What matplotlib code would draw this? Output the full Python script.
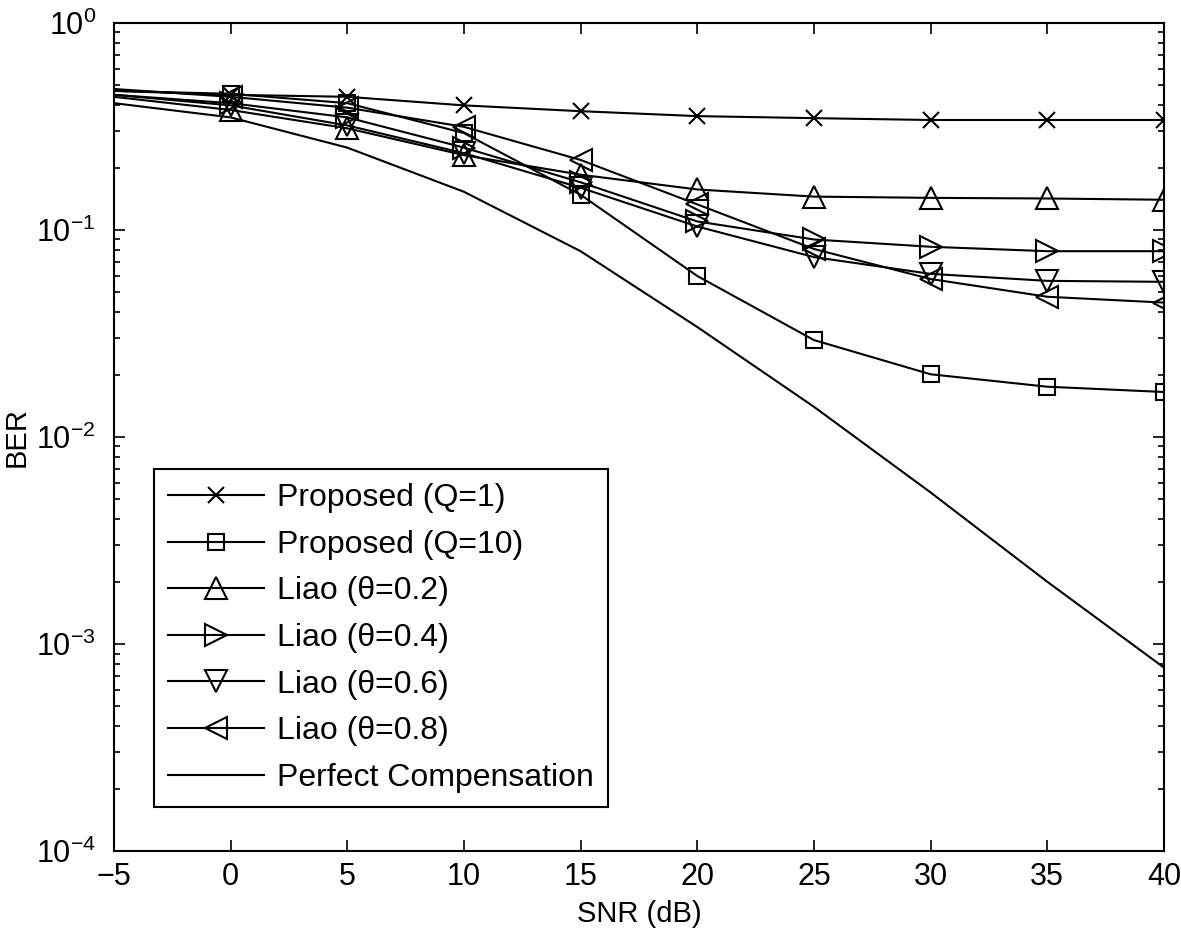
"""BER vs SNR comparison: proposed scheme vs Liao's method"""

import matplotlib
matplotlib.use('Agg')
import matplotlib.pyplot as plt

plt.rcParams['font.family'] = ['Liberation Sans', 'DejaVu Sans']
plt.rcParams['mathtext.default'] = 'regular'

snr_db = [-5, 0, 5, 10, 15, 20, 25, 30, 35, 40]

proposed_q1 = [0.47, 0.45, 0.44, 0.40, 0.375, 0.355, 0.347, 0.34, 0.34, 0.34]
proposed_q10 = [0.47, 0.455, 0.41, 0.294, 0.148, 0.060, 0.0294, 0.0201, 0.0175, 0.0165]
liao_02 = [0.44, 0.38, 0.31, 0.23, 0.185, 0.157, 0.145, 0.143, 0.142, 0.140]
liao_04 = [0.45, 0.41, 0.35, 0.25, 0.17, 0.110, 0.090, 0.083, 0.079, 0.079]
liao_06 = [0.45, 0.40, 0.32, 0.235, 0.16, 0.104, 0.074, 0.0614, 0.0568, 0.0562]
liao_08 = [0.48, 0.44, 0.39, 0.315, 0.218, 0.133, 0.081, 0.058, 0.0476, 0.0446]
perfect = [0.41, 0.35, 0.25, 0.153, 0.079, 0.034, 0.014, 0.0054, 0.002, 0.00077]

series = [
    (proposed_q1, 'x', 11, 'Proposed (Q=1)'),
    (proposed_q10, 's', 12, 'Proposed (Q=10)'),
    (liao_02, '^', 16, 'Liao (θ=0.2)'),
    (liao_04, '>', 16, 'Liao (θ=0.4)'),
    (liao_06, 'v', 16, 'Liao (θ=0.6)'),
    (liao_08, '<', 16, 'Liao (θ=0.8)'),
]

fig = plt.figure(figsize=(11.81, 9.35), dpi=100)
ax = fig.add_axes([0.0965, 0.0898, 0.889, 0.8856])

for values, marker, size, label in series:
    # no marker at the first point (-5 dB), as in the original
    ax.semilogy(snr_db, values, color='black', linewidth=1.5, marker=marker,
                markersize=size, markerfacecolor='none', markeredgewidth=1.5,
                markevery=slice(1, None), label=label)
ax.semilogy(snr_db, perfect, color='black', linewidth=1.5, label='Perfect Compensation')

ax.set_xlim(-5, 40)
ax.set_ylim(1e-4, 1)
ax.set_xticks(range(-5, 41, 5))
ax.set_xlabel('SNR (dB)', fontsize=21, labelpad=6)
ax.set_ylabel('BER', fontsize=21, labelpad=4)
ax.tick_params(which='both', direction='in', top=True, right=True, labelsize=22, width=1.2)
ax.tick_params(which='major', length=8)
ax.tick_params(which='minor', length=4)
ax.tick_params(axis='x', which='major', pad=8)
ax.tick_params(axis='y', which='major', pad=13)
for spine in ax.spines.values():
    spine.set_linewidth(1.5)

leg = ax.legend(loc='lower left', bbox_to_anchor=(0.038, 0.053), fontsize=23,
                frameon=True, fancybox=False, edgecolor='black', framealpha=1,
                handlelength=3.0, handletextpad=0.4, labelspacing=0.52,
                borderpad=0.45, borderaxespad=0, markerscale=1.0)
leg.get_frame().set_linewidth(1.5)

fig.savefig('out.png', dpi=100)
